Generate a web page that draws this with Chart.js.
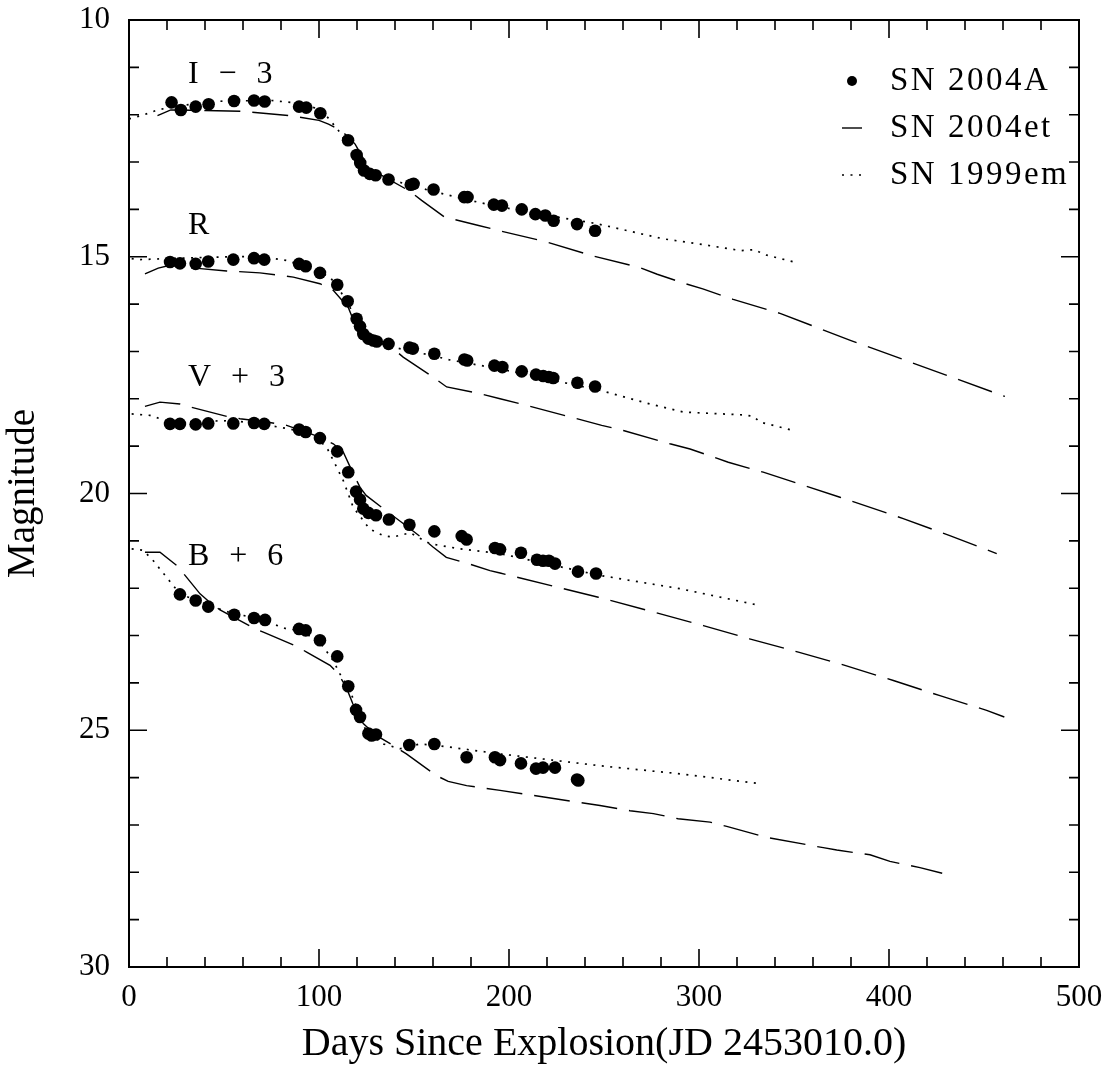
<!DOCTYPE html>
<html>
<head>
<meta charset="utf-8">
<title>Light curves</title>
<script src="https://cdn.jsdelivr.net/npm/chart.js@4.4.1/dist/chart.umd.min.js"></script>
<style>
  html, body { margin: 0; padding: 0; background: #fff; }
  canvas { display: block; }
</style>
</head>
<body>
<canvas id="lcChart" width="1119" height="1068"></canvas>
<script>
// [days since explosion, magnitude]
// SN 2004A photometry (offsets already applied: I-3, R, V+3, B+6)
const sn2004aI = [
  [22.4, 11.74], [27.3, 11.90], [35.1, 11.83], [41.9, 11.78], [55.3, 11.71], [65.8, 11.70],
  [71.4, 11.72], [89.5, 11.83], [93.3, 11.85], [100.7, 11.97], [115.3, 12.54], [119.8, 12.85],
  [121.7, 13.02], [123.7, 13.18], [126.7, 13.25], [129.8, 13.28], [136.6, 13.37], [148.3, 13.48],
  [149.8, 13.46], [160.3, 13.58], [176.4, 13.74], [178.2, 13.74], [192.0, 13.90], [196.3, 13.92],
  [206.7, 14.00], [213.9, 14.10], [219.1, 14.13], [223.5, 14.24], [235.8, 14.31], [245.3, 14.45]
];
const sn2004aR = [
  [21.6, 15.11], [26.8, 15.14], [35.1, 15.15], [41.7, 15.10], [54.9, 15.06], [65.8, 15.03],
  [71.2, 15.06], [89.5, 15.15], [93.0, 15.20], [100.5, 15.34], [109.6, 15.59], [115.1, 15.94],
  [119.8, 16.31], [121.6, 16.47], [123.3, 16.63], [126.0, 16.73], [128.6, 16.77], [130.4, 16.79],
  [136.6, 16.84], [147.6, 16.92], [149.4, 16.94], [160.7, 17.05], [176.5, 17.17], [178.0, 17.19],
  [192.3, 17.30], [196.5, 17.33], [206.7, 17.42], [214.2, 17.49], [218.0, 17.52], [221.0, 17.54],
  [223.3, 17.56], [236.0, 17.66], [245.3, 17.74]
];
const sn2004aV = [
  [21.6, 18.53], [26.8, 18.53], [35.1, 18.54], [41.7, 18.52], [54.9, 18.52], [65.8, 18.51],
  [71.2, 18.53], [89.5, 18.65], [93.0, 18.70], [100.5, 18.83], [109.6, 19.11], [115.4, 19.55],
  [119.5, 19.96], [121.6, 20.13], [123.3, 20.32], [126.0, 20.41], [130.0, 20.46], [136.8, 20.55],
  [147.6, 20.66], [160.7, 20.80], [175.1, 20.90], [177.7, 20.97], [192.6, 21.15], [195.3, 21.18],
  [206.3, 21.25], [214.7, 21.40], [217.9, 21.42], [221.0, 21.42], [224.2, 21.48], [236.3, 21.65],
  [245.8, 21.69]
];
const sn2004aB = [
  [26.8, 22.13], [35.1, 22.26], [41.7, 22.39], [55.4, 22.56], [65.8, 22.63], [71.6, 22.67],
  [89.5, 22.86], [93.0, 22.89], [100.5, 23.10], [109.6, 23.44], [115.4, 24.07], [119.5, 24.57],
  [121.6, 24.72], [126.0, 25.07], [127.7, 25.11], [130.0, 25.09], [147.5, 25.31], [160.7, 25.29],
  [177.7, 25.57], [192.6, 25.57], [195.3, 25.63], [206.3, 25.70], [214.2, 25.81], [217.9, 25.79],
  [224.2, 25.79], [235.8, 26.04], [236.5, 26.06]
];

// SN 2004et template curves
const sn2004etI = [
  [15, 12.02], [22, 11.90], [40, 11.91], [60, 11.93], [85, 12.02], [100, 12.12], [105, 12.20],
  [110, 12.30], [115, 12.45], [119, 12.62], [123, 12.90], [126, 13.10], [133, 13.28], [148, 13.62],
  [154, 13.81], [166, 14.16], [184, 14.34], [195, 14.45], [220, 14.69], [244, 14.98], [269, 15.23],
  [278, 15.37], [293, 15.57], [302, 15.68], [318, 15.90], [343, 16.20], [380, 16.77], [461, 17.95]
];
const sn2004etR = [
  [8.4, 15.36], [15.4, 15.24], [21.6, 15.18], [34.7, 15.24], [51.4, 15.30], [68.9, 15.34],
  [86.5, 15.43], [100.5, 15.57], [107.5, 15.71], [115.4, 16.07], [119.6, 16.49], [124.8, 16.70],
  [139, 16.94], [144.3, 17.12], [160, 17.54], [167.2, 17.75], [184.7, 17.89], [195.3, 18.00],
  [209.3, 18.14], [235.6, 18.42], [248.8, 18.56], [260.2, 18.67], [284.7, 18.95], [295.3, 19.06],
  [315.4, 19.34], [333.8, 19.55], [374.2, 20.08], [407.5, 20.53], [432, 20.89], [456.7, 21.27]
];
const sn2004etV = [
  [8.4, 18.16], [16.3, 18.07], [26.8, 18.11], [33, 18.18], [51.4, 18.37], [58.4, 18.42],
  [72.5, 18.49], [83, 18.56], [100.5, 18.81], [107.5, 18.95], [112.8, 19.13], [118, 19.58],
  [121.6, 19.87], [124.8, 20.04], [133.9, 20.32], [145.9, 20.68], [154.9, 20.96], [160, 21.13],
  [167, 21.35], [177.7, 21.47], [190, 21.63], [195.3, 21.68], [247, 22.19], [276.8, 22.51],
  [302.3, 22.79], [326.6, 23.07], [352.3, 23.35], [376.8, 23.63], [402.3, 23.95], [426.8, 24.27],
  [451.4, 24.58], [460.7, 24.72]
];
const sn2004etB = [
  [8.4, 21.24], [16.3, 21.24], [25.1, 21.52], [29.5, 21.73], [37.4, 22.12], [42.6, 22.30],
  [47.9, 22.46], [64.6, 22.82], [70.7, 22.93], [88.3, 23.23], [93.5, 23.35], [105.8, 23.63],
  [110.2, 23.81], [114.3, 24.09], [117.8, 24.44], [123.3, 24.86], [130.1, 25.11], [139, 25.32],
  [146, 25.50], [161.9, 25.96], [168, 26.08], [177.7, 26.17], [195.3, 26.27], [247.9, 26.59],
  [263.7, 26.70], [276, 26.76], [289, 26.87], [305.8, 26.94], [314.6, 27.03], [335.4, 27.26],
  [365.4, 27.48], [372.5, 27.53], [390, 27.63], [400.5, 27.77], [416.3, 27.90], [428, 28.02]
];

// SN 1999em template curves
const sn1999emI = [
  [0, 12.09], [8, 12.00], [15, 11.90], [25, 11.82], [40, 11.74], [50, 11.71], [75, 11.70],
  [90, 11.76], [98, 11.86], [104, 12.03], [110, 12.32], [115, 12.62], [119, 12.85], [124, 13.10],
  [130, 13.28], [140, 13.40], [160, 13.62], [185, 13.86], [210, 14.06], [246, 14.30], [281, 14.62],
  [300, 14.73], [322, 14.87], [329.5, 14.85], [334, 14.95], [350, 15.11]
];
const sn1999emR = [
  [1.4, 15.04], [5.8, 15.06], [19.8, 15.04], [42.6, 15.01], [68.9, 14.99], [83, 15.08],
  [97, 15.26], [105.8, 15.43], [111, 15.71], [116.3, 16.07], [120.7, 16.42], [126.8, 16.73],
  [139, 16.91], [160, 17.09], [169, 17.18], [195.3, 17.37], [247.9, 17.82], [274.2, 18.11],
  [291.8, 18.28], [323.3, 18.34], [328.6, 18.37], [332, 18.49], [349.7, 18.67]
];
const sn1999emV = [
  [1.4, 18.32], [11, 18.35], [21.6, 18.49], [54.9, 18.46], [79.5, 18.60], [88.3, 18.67],
  [98.8, 18.84], [104, 19.02], [107.5, 19.30], [112.8, 19.73], [118, 20.29], [123.3, 20.57],
  [126.6, 20.75], [133.9, 20.89], [139, 20.92], [147.9, 20.83], [158.4, 21.06], [174.2, 21.17],
  [195.3, 21.27], [247.9, 21.73], [290, 22.01], [332.6, 22.37]
];
const sn1999emB = [
  [1.4, 21.17], [7.5, 21.20], [12.8, 21.42], [19.8, 21.77], [26.8, 22.12], [42.6, 22.37],
  [54.9, 22.54], [65.4, 22.61], [83, 22.86], [90, 22.89], [100.5, 23.14], [107.5, 23.53],
  [111, 23.81], [116.3, 24.16], [121.6, 24.72], [124.8, 25.01], [133.9, 25.29], [142.6, 25.39],
  [153, 25.29], [161.9, 25.32], [195.3, 25.50], [247.9, 25.75], [290, 25.92], [330.4, 26.12]
];

// band names and where they sit (days, mag)
const bandNames = ['I \u2212 3', 'R', 'V + 3', 'B + 6'];
const bandLabelAt = [[31, 11.32], [31, 14.51], [31, 17.74], [31, 21.52]];

const legendNames = ['SN 2004A', 'SN 2004et', 'SN 1999em'];

const xTicks = { min: 0, max: 500, major: 100, minor: 20 };
const yTicks = { min: 10, max: 30, major: 5, minor: 1 };

const FONT = "'Liberation Serif', 'DejaVu Serif', serif";
const toXY = arr => arr.map(p => ({ x: p[0], y: p[1] }));

function dotSet(pts) {
  return {
    data: toXY(pts), showLine: false, pointRadius: 6.3, pointHoverRadius: 6.3,
    pointBackgroundColor: '#000', pointBorderWidth: 0, order: 0
  };
}
function dashSet(pts) {
  return {
    data: toXY(pts), showLine: true, pointRadius: 0, borderColor: '#000',
    borderWidth: 1.4, borderDash: [36, 12], tension: 0, order: 1
  };
}
function dotLineSet(pts) {
  return {
    data: toXY(pts), showLine: true, pointRadius: 0, borderColor: '#000',
    borderWidth: 1.7, borderDash: [2, 6.5], tension: 0, order: 2
  };
}

// box, inward ticks on all four sides, band names and legend
const framePlugin = {
  id: 'framePlugin',
  afterDraw(chart) {
    const { ctx, chartArea: a, scales: { x, y } } = chart;
    ctx.save();
    ctx.strokeStyle = '#000';
    ctx.lineWidth = 2;
    ctx.strokeRect(a.left, a.top, a.right - a.left, a.bottom - a.top);

    ctx.lineWidth = 1.6;
    ctx.beginPath();
    for (let v = xTicks.min; v <= xTicks.max; v += xTicks.minor) {
      const px = x.getPixelForValue(v);
      const len = v % xTicks.major === 0 ? 18 : 10;
      ctx.moveTo(px, a.bottom); ctx.lineTo(px, a.bottom - len);
      ctx.moveTo(px, a.top); ctx.lineTo(px, a.top + len);
    }
    for (let v = yTicks.min; v <= yTicks.max; v += yTicks.minor) {
      const py = y.getPixelForValue(v);
      const len = v % yTicks.major === 0 ? 18 : 10;
      ctx.moveTo(a.left, py); ctx.lineTo(a.left + len, py);
      ctx.moveTo(a.right, py); ctx.lineTo(a.right - len, py);
    }
    ctx.stroke();

    ctx.fillStyle = '#000';
    ctx.font = '32px ' + FONT;
    ctx.letterSpacing = '6px';
    ctx.textBaseline = 'alphabetic';
    ctx.textAlign = 'left';
    bandNames.forEach((name, i) => {
      ctx.fillText(name, x.getPixelForValue(bandLabelAt[i][0]), y.getPixelForValue(bandLabelAt[i][1]));
    });

    // legend
    ctx.font = '33px ' + FONT;
    ctx.letterSpacing = '2.5px';
    const tx = a.right - 189, mx = a.right - 227;
    const rows = [a.top + 61, a.top + 108, a.top + 155];
    ctx.textBaseline = 'middle';
    legendNames.forEach((name, i) => ctx.fillText(name, tx, rows[i]));
    ctx.letterSpacing = '0px';
    ctx.beginPath();
    ctx.arc(mx, rows[0], 5, 0, Math.PI * 2);
    ctx.fill();
    ctx.lineWidth = 1.4;
    ctx.beginPath();
    ctx.moveTo(mx - 10, rows[1]); ctx.lineTo(mx + 10, rows[1]);
    ctx.stroke();
    ctx.lineWidth = 1.7;
    ctx.setLineDash([2, 6.5]);
    ctx.beginPath();
    ctx.moveTo(mx - 10, rows[2]); ctx.lineTo(mx + 12, rows[2]);
    ctx.stroke();
    ctx.restore();
  }
};

const ctx = document.getElementById('lcChart').getContext('2d');
const lcChart = new Chart(ctx, {
  type: 'scatter',
  data: {
    datasets: [
      dotSet(sn2004aI), dotSet(sn2004aR), dotSet(sn2004aV), dotSet(sn2004aB),
      dashSet(sn2004etI), dashSet(sn2004etR), dashSet(sn2004etV), dashSet(sn2004etB),
      dotLineSet(sn1999emI), dotLineSet(sn1999emR), dotLineSet(sn1999emV), dotLineSet(sn1999emB)
    ]
  },
  options: {
    responsive: false,
    animation: false,
    devicePixelRatio: 1,
    layout: { padding: { top: 20, right: 40, left: 0, bottom: 0 } },
    plugins: { legend: { display: false }, tooltip: { enabled: false } },
    scales: {
      x: {
        type: 'linear', min: xTicks.min, max: xTicks.max,
        afterFit(scale) {
          scale.height = 101;
          scale.paddingLeft = 0;
          scale.paddingRight = 0;
        },
        grid: { display: false, drawTicks: false },
        border: { display: false },
        ticks: { stepSize: xTicks.major, padding: 12, color: '#000', font: { family: FONT, size: 31 } },
        title: {
          display: true, text: 'Days Since Explosion(JD 2453010.0)', color: '#000',
          font: { family: FONT, size: 40 }, padding: { top: 0, bottom: 0 }
        }
      },
      y: {
        type: 'linear', reverse: true, min: yTicks.min, max: yTicks.max,
        afterFit(scale) {
          scale.width = 129;
          scale.paddingTop = 0;
          scale.paddingBottom = 0;
        },
        grid: { display: false, drawTicks: false },
        border: { display: false },
        ticks: { stepSize: yTicks.major, padding: 19, color: '#000', font: { family: FONT, size: 31 } },
        title: {
          display: true, text: 'Magnitude', color: '#000',
          font: { family: FONT, size: 39 }, padding: { top: 0, bottom: 0 }
        }
      }
    }
  },
  plugins: [framePlugin]
});
</script>
</body>
</html>
